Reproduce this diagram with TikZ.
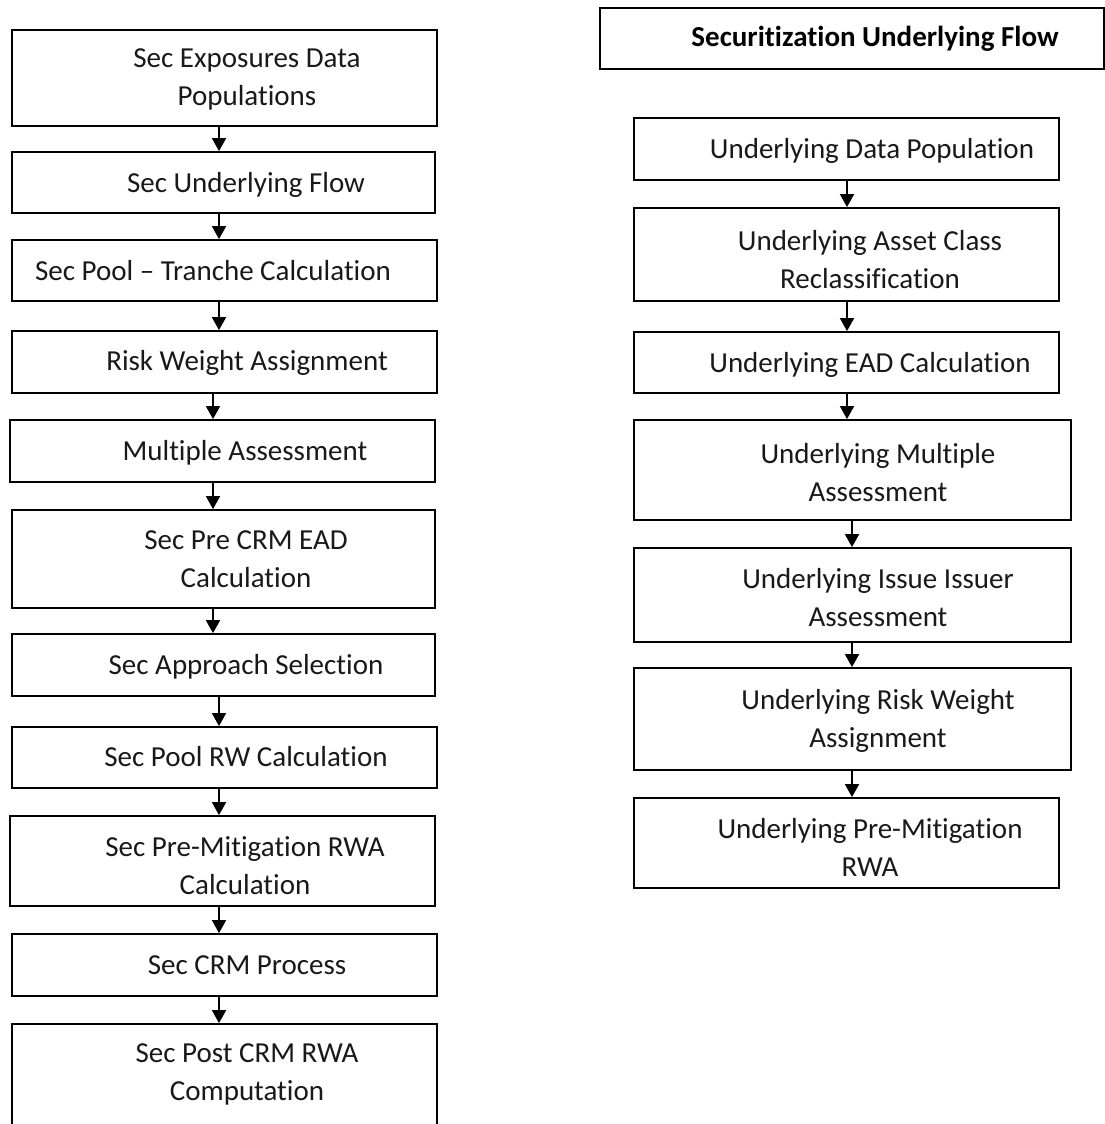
\documentclass[tikz,border=0pt]{standalone}
\usepackage{fontspec}
\setmainfont{Carlito}[Ligatures=NoCommon]
\usetikzlibrary{arrows.meta}
\tikzset{
  flowbox/.style={draw=black, line width=1.8pt, rectangle, inner sep=0pt},
  txt/.style={align=center, inner sep=0pt, yshift=-1.5pt, font=\fontsize{29}{38}\selectfont, text=black!90},
  ttl/.style={align=center, inner sep=0pt, yshift=-1.5pt, font=\fontsize{29}{38}\selectfont\bfseries, text=black},
  arr/.style={line width=1.8pt, -{Triangle[width=14pt,length=13pt]}}
}
\newcommand\flowbox[5]{\node[flowbox, minimum width={#3-#2}, minimum height={#5-#4}] (#1) at ({(#2+#3)/2},{(#4+#5)/2}) {};}
\begin{document}
\begin{tikzpicture}[x=1pt,y=-1pt]
\clip (0,0) rectangle (1105,1124);
\fill[white] (0,0) rectangle (1105,1124);
% left column boxes
\flowbox{L1}{12}{437}{30}{126}
\flowbox{L2}{12}{435}{152}{213}
\flowbox{L3}{12}{437}{240}{301}
\flowbox{L4}{12}{437}{331}{393}
\flowbox{L5}{10}{435}{420}{482}
\flowbox{L6}{12}{435}{510}{608}
\flowbox{L7}{12}{435}{634}{696}
\flowbox{L8}{12}{437}{727}{788}
\flowbox{L9}{10}{435}{816}{906}
\flowbox{L10}{12}{437}{934}{996}
\flowbox{L11}{12}{437}{1024}{1160}
% left texts
\node[txt] (L1t) at (247,78) {Sec Exposures Data\\Populations};
\node[txt] (L2t) at (246,183) {Sec Underlying Flow};
\node[txt] (L3t) at (213,269) {Sec Pool -- Tranche Calculation};
\node[txt] (L4t) at (247,361) {Risk Weight Assignment};
\node[txt] (L5t) at (245,451) {Multiple Assessment};
\node[txt] (L6t) at (246,558) {Sec Pre CRM EAD\\Calculation};
\node[txt] (L7t) at (246,665) {Sec Approach Selection};
\node[txt] (L8t) at (246,755) {Sec Pool RW Calculation};
\node[txt] (L9t) at (245,864) {Sec Pre-Mitigation RWA\\Calculation};
\node[txt] (L10t) at (247,964) {Sec CRM Process};
\node[txt] (L11t) at (247,1073) {Sec Post CRM RWA\\Computation};
% right column
\flowbox{T}{600}{1104}{8}{69}
\node[ttl] (Tt) at (875,37) {Securitization Underlying Flow};
\flowbox{R1}{634}{1059}{118}{180}
\flowbox{R2}{634}{1059}{208}{301}
\flowbox{R3}{634}{1059}{332}{393}
\flowbox{R4}{634}{1071}{420}{520}
\flowbox{R5}{634}{1071}{548}{642}
\flowbox{R6}{634}{1071}{668}{770}
\flowbox{R7}{634}{1059}{798}{888}
\node[txt] (R1t) at (872,149) {Underlying Data Population};
\node[txt] (R2t) at (870,258) {Underlying Asset Class\\Reclassification};
\node[txt] (R3t) at (870,363) {Underlying EAD Calculation};
\node[txt] (R4t) at (878,471) {Underlying Multiple\\Assessment};
\node[txt] (R5t) at (878,596) {Underlying Issue Issuer\\Assessment};
\node[txt] (R6t) at (878,719) {Underlying Risk Weight\\Assignment};
\node[txt] (R7t) at (870,846) {Underlying Pre-Mitigation\\RWA};
% arrow x positions
\coordinate (ax1) at (219,0);
\coordinate (ax2) at (213,0);
\coordinate (bx1) at (847,0);
\coordinate (bx2) at (852,0);
\draw[arr] (ax1 |- L1.south) -- (ax1 |- L2.north);
\draw[arr] (ax1 |- L2.south) -- (ax1 |- L3.north);
\draw[arr] (ax1 |- L3.south) -- (ax1 |- L4.north);
\draw[arr] (ax2 |- L4.south) -- (ax2 |- L5.north);
\draw[arr] (ax2 |- L5.south) -- (ax2 |- L6.north);
\draw[arr] (ax2 |- L6.south) -- (ax2 |- L7.north);
\draw[arr] (ax1 |- L7.south) -- (ax1 |- L8.north);
\draw[arr] (ax1 |- L8.south) -- (ax1 |- L9.north);
\draw[arr] (ax1 |- L9.south) -- (ax1 |- L10.north);
\draw[arr] (ax1 |- L10.south) -- (ax1 |- L11.north);
\draw[arr] (bx1 |- R1.south) -- (bx1 |- R2.north);
\draw[arr] (bx1 |- R2.south) -- (bx1 |- R3.north);
\draw[arr] (bx1 |- R3.south) -- (bx1 |- R4.north);
\draw[arr] (bx2 |- R4.south) -- (bx2 |- R5.north);
\draw[arr] (bx2 |- R5.south) -- (bx2 |- R6.north);
\draw[arr] (bx2 |- R6.south) -- (bx2 |- R7.north);
\end{tikzpicture}
\end{document}
